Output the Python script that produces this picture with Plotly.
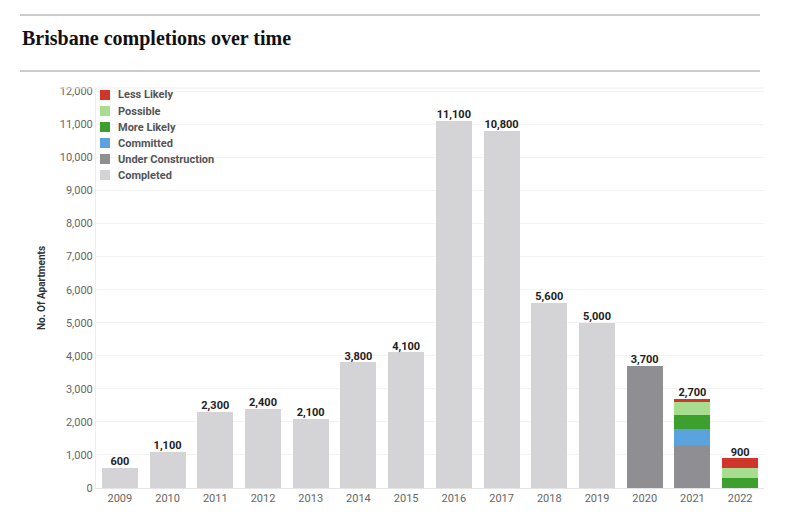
import plotly.graph_objects as go

years = ["2009", "2010", "2011", "2012", "2013", "2014", "2015", "2016", "2017", "2018", "2019", "2020", "2021", "2022"]
completed = [600, 1100, 2300, 2400, 2100, 3800, 4100, 11100, 10800, 5600, 5000, 0, 0, 0]
under_construction = [0, 0, 0, 0, 0, 0, 0, 0, 0, 0, 0, 3700, 1300, 0]
committed = [0, 0, 0, 0, 0, 0, 0, 0, 0, 0, 0, 0, 500, 0]
more_likely = [0, 0, 0, 0, 0, 0, 0, 0, 0, 0, 0, 0, 400, 300]
possible = [0, 0, 0, 0, 0, 0, 0, 0, 0, 0, 0, 0, 400, 300]
less_likely = [0, 0, 0, 0, 0, 0, 0, 0, 0, 0, 0, 0, 100, 300]
total_labels = ["600", "1,100", "2,300", "2,400", "2,100", "3,800", "4,100", "11,100", "10,800", "5,600", "5,000", "3,700", "2,700", "900"]

series = [
    ("Completed", completed, "#d4d4d6"),
    ("Under Construction", under_construction, "#8f8f93"),
    ("Committed", committed, "#5ba3df"),
    ("More Likely", more_likely, "#3c9f2e"),
    ("Possible", possible, "#a8dc8f"),
    ("Less Likely", less_likely, "#d0352a"),
]

FONT = "Roboto, DejaVu Sans, sans-serif"

# figure geometry (figure px; page adds 8px body margin)
L, R, T, B = 88, 34, 80, 37
W, H = 790, 517
PW, PH = W - L - R, H - T - B


def px(xfig):
    return (xfig - L) / PW


def py(yfig):
    return (H - B - yfig) / PH


fig = go.Figure()
for name, vals, color in series:
    fig.add_trace(go.Bar(
        x=years, y=vals, name=name, marker=dict(color=color, line=dict(width=0)),
        hoverinfo="skip", showlegend=False,
    ))

totals = [sum(v) for v in zip(completed, under_construction, committed, more_likely, possible, less_likely)]
fig.add_trace(go.Scatter(
    x=years, y=totals, mode="text", text=total_labels, textposition="top center",
    textfont=dict(family=FONT, size=11, color="#222222", weight="bold"), showlegend=False,
    hoverinfo="skip", cliponaxis=False,
))

shapes = [
    dict(type="line", xref="paper", yref="paper", x0=px(12), x1=px(752), y0=py(7), y1=py(7),
         line=dict(color="#999999", width=1)),
    dict(type="line", xref="paper", yref="paper", x0=px(12), x1=px(752), y0=py(63), y1=py(63),
         line=dict(color="#999999", width=1)),
    dict(type="line", xref="paper", yref="paper", x0=px(50), x1=1.0, y0=1.0, y1=1.0,
         line=dict(color="#eeeeee", width=1)),
]
annotations = [
    dict(text="<b>Brisbane completions over time</b>", xref="paper", yref="paper",
         x=px(12), y=py(30), xanchor="left", yanchor="middle", showarrow=False,
         font=dict(family="Liberation Serif, DejaVu Serif, serif", size=20, color="#111111")),
]

# legend (top to bottom)
for i, (name, _, color) in enumerate(reversed(series)):
    yc = 87 + 16 * i
    shapes.append(dict(type="rect", xref="paper", yref="paper", x0=px(92), x1=px(102),
                       y0=py(yc + 5), y1=py(yc - 5), fillcolor=color, line=dict(width=0)))
    annotations.append(dict(text=name, xref="paper", yref="paper", x=px(108), y=py(yc),
                            xanchor="left", yanchor="middle", showarrow=False,
                            font=dict(family=FONT, size=11, color="#555555", weight="bold")))

fig.update_layout(
    width=W, height=H,
    barmode="stack", bargap=0.245,
    paper_bgcolor="white", plot_bgcolor="white",
    margin=dict(l=L, r=R, t=T, b=B, autoexpand=False),
    font=dict(family=FONT, color="#555555"),
    showlegend=False,
    xaxis=dict(
        range=[-0.5, len(years) - 0.5], autorange=False,
        showgrid=False, showline=True, linecolor="#e4e4e4", linewidth=1, automargin=False,
        tickfont=dict(family=FONT, size=11, color="#666666"), ticks="",
    ),
    yaxis=dict(
        range=[0, 12100], tickvals=list(range(0, 12001, 1000)), tickformat=",",
        showgrid=True, gridcolor="#f3f3f3", zeroline=False, automargin=False,
        showline=True, linecolor="#ececec",
        tickfont=dict(family=FONT, size=11, color="#666666"),
        title=dict(text="No. Of Apartments",
                   font=dict(family=FONT, size=10, color="#333333", weight="bold"), standoff=12),
    ),
    shapes=shapes,
    annotations=annotations,
)

fig.write_html("out.html")
